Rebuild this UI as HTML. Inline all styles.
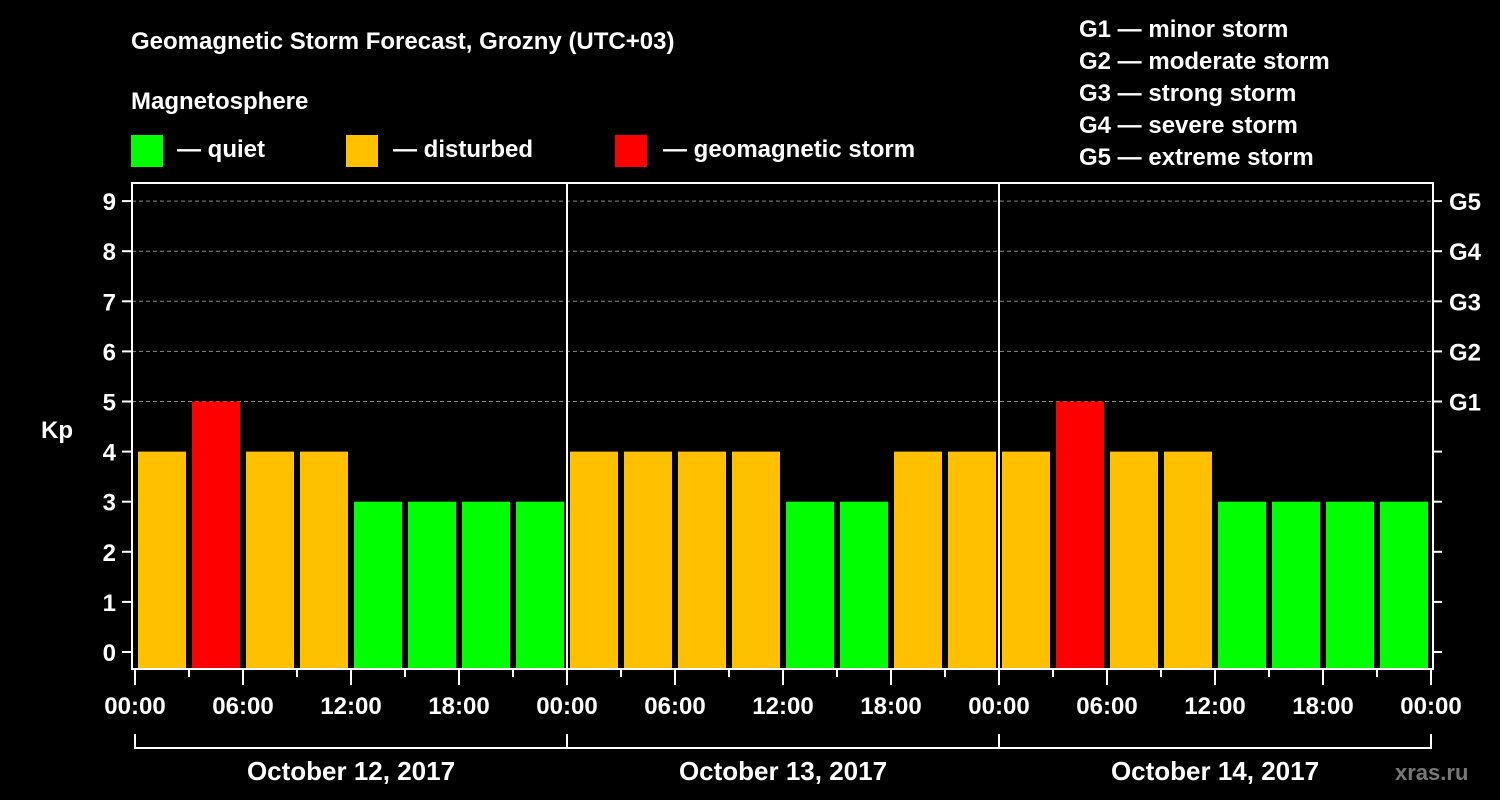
<!DOCTYPE html>
<html><head><meta charset="utf-8"><style>
body{margin:0;background:#000;width:1500px;height:800px;overflow:hidden}
svg{display:block;font-family:"Liberation Sans",Arial,sans-serif;font-weight:bold}
</style></head><body>
<svg id="chart" width="1500" height="800" viewBox="0 0 1500 800">
<rect width="1500" height="800" fill="#000"/>
<g fill="#fff" font-size="24">
<text x="131" y="49">Geomagnetic Storm Forecast, Grozny (UTC+03)</text>
<text x="131" y="109">Magnetosphere</text>
<rect x="131" y="135" width="32" height="32" fill="#00ff00"/>
<text x="177" y="157">— quiet</text>
<rect x="346" y="135" width="32" height="32" fill="#ffc000"/>
<text x="393" y="157">— disturbed</text>
<rect x="615" y="135" width="32" height="32" fill="#ff0000"/>
<text x="663" y="157">— geomagnetic storm</text>
<text x="1079" y="37">G1 — minor storm</text>
<text x="1079" y="69">G2 — moderate storm</text>
<text x="1079" y="101">G3 — strong storm</text>
<text x="1079" y="133">G4 — severe storm</text>
<text x="1079" y="165">G5 — extreme storm</text>
<text x="41" y="438">Kp</text>
<text x="1395" y="780" fill="#777" font-size="22">xras.ru</text>
</g>
<g id="grid"></g>
<g id="bars"></g>
<g id="axes"></g>
</svg>
<script>
const kpValues=[4,5,4,4,3,3,3,3, 4,4,4,4,3,3,4,4, 4,5,4,4,3,3,3,3];
const dayLabels=["October 12, 2017","October 13, 2017","October 14, 2017"];
const yTicks=[0,1,2,3,4,5,6,7,8,9];
const gLabels=["G1","G2","G3","G4","G5"];
const gLevels=[5,6,7,8,9];
const hourLabels=["00:00","06:00","12:00","18:00"];
const NS="http://www.w3.org/2000/svg";
const X0=135,DAYW=432,HW=DAYW/24;
const xs=h=>X0+h*HW;
const ys=v=>652-v*50.1;
const L=132,R=1433,T=183,B=669;
function mk(tag,attrs,parent,text){const e=document.createElementNS(NS,tag);for(const k in attrs)e.setAttribute(k,attrs[k]);if(text!==undefined)e.textContent=text;parent.appendChild(e);return e;}
const grid=document.getElementById('grid'),bars=document.getElementById('bars'),axes=document.getElementById('axes');
gLevels.forEach((g,i)=>{
 const l=mk('line',{x1:L,x2:R,y1:ys(g),y2:ys(g),stroke:'#888','stroke-dasharray':'4,3','stroke-width':1},grid);
 
 
});
kpValues.forEach((v,i)=>{
 const c=v>=5?'#ff0000':(v>=4?'#ffc000':'#00ff00');
 const r=mk('rect',{x:xs(i*3)+3,y:ys(v),width:HW*3-6,height:668-ys(v),fill:c},bars);
 
 
});
const fr=mk('rect',{x:L,y:T,width:R-L,height:B-T,fill:'none',stroke:'#fff','stroke-width':2},axes);


for(let d=1;d<3;d++){const l=mk('line',{x1:xs(d*24),x2:xs(d*24),y1:T,y2:B,stroke:'#fff','stroke-width':2},axes);
 
 }
yTicks.forEach(v=>{
 mk('line',{x1:122,x2:L,y1:ys(v),y2:ys(v),stroke:'#fff','stroke-width':2},axes);
 mk('line',{x1:R,x2:1442,y1:ys(v),y2:ys(v),stroke:'#fff','stroke-width':2},axes);
 const t=mk('text',{x:116,y:ys(v)+9,fill:'#fff','font-size':24,'text-anchor':'end'},axes,String(v));
 
 
});
gLabels.forEach((g,i)=>{
 const t=mk('text',{x:1449,y:ys(gLevels[i])+9,fill:'#fff','font-size':24},axes,g);
 
 
});
for(let h=0;h<=72;h+=3){
 const major=h%6===0;
 mk('line',{x1:xs(h),x2:xs(h),y1:B,y2:major?685:677,stroke:'#fff','stroke-width':2},axes);
 if(major){const t=mk('text',{x:xs(h),y:714,fill:'#fff','font-size':24,'text-anchor':'middle'},axes,hourLabels[(h/6)%4]);
  
  }
}
mk('path',{d:`M${xs(0)} 734V748H${xs(72)}V734`,fill:'none',stroke:'#fff','stroke-width':2},axes);
for(let d=1;d<3;d++)mk('line',{x1:xs(d*24),x2:xs(d*24),y1:734,y2:748,stroke:'#fff','stroke-width':2},axes);
dayLabels.forEach((s,d)=>{
 const t=mk('text',{x:xs(d*24+12),y:780,fill:'#fff','font-size':26,'text-anchor':'middle'},axes,s);
 
 
});
</script>
</body></html>
